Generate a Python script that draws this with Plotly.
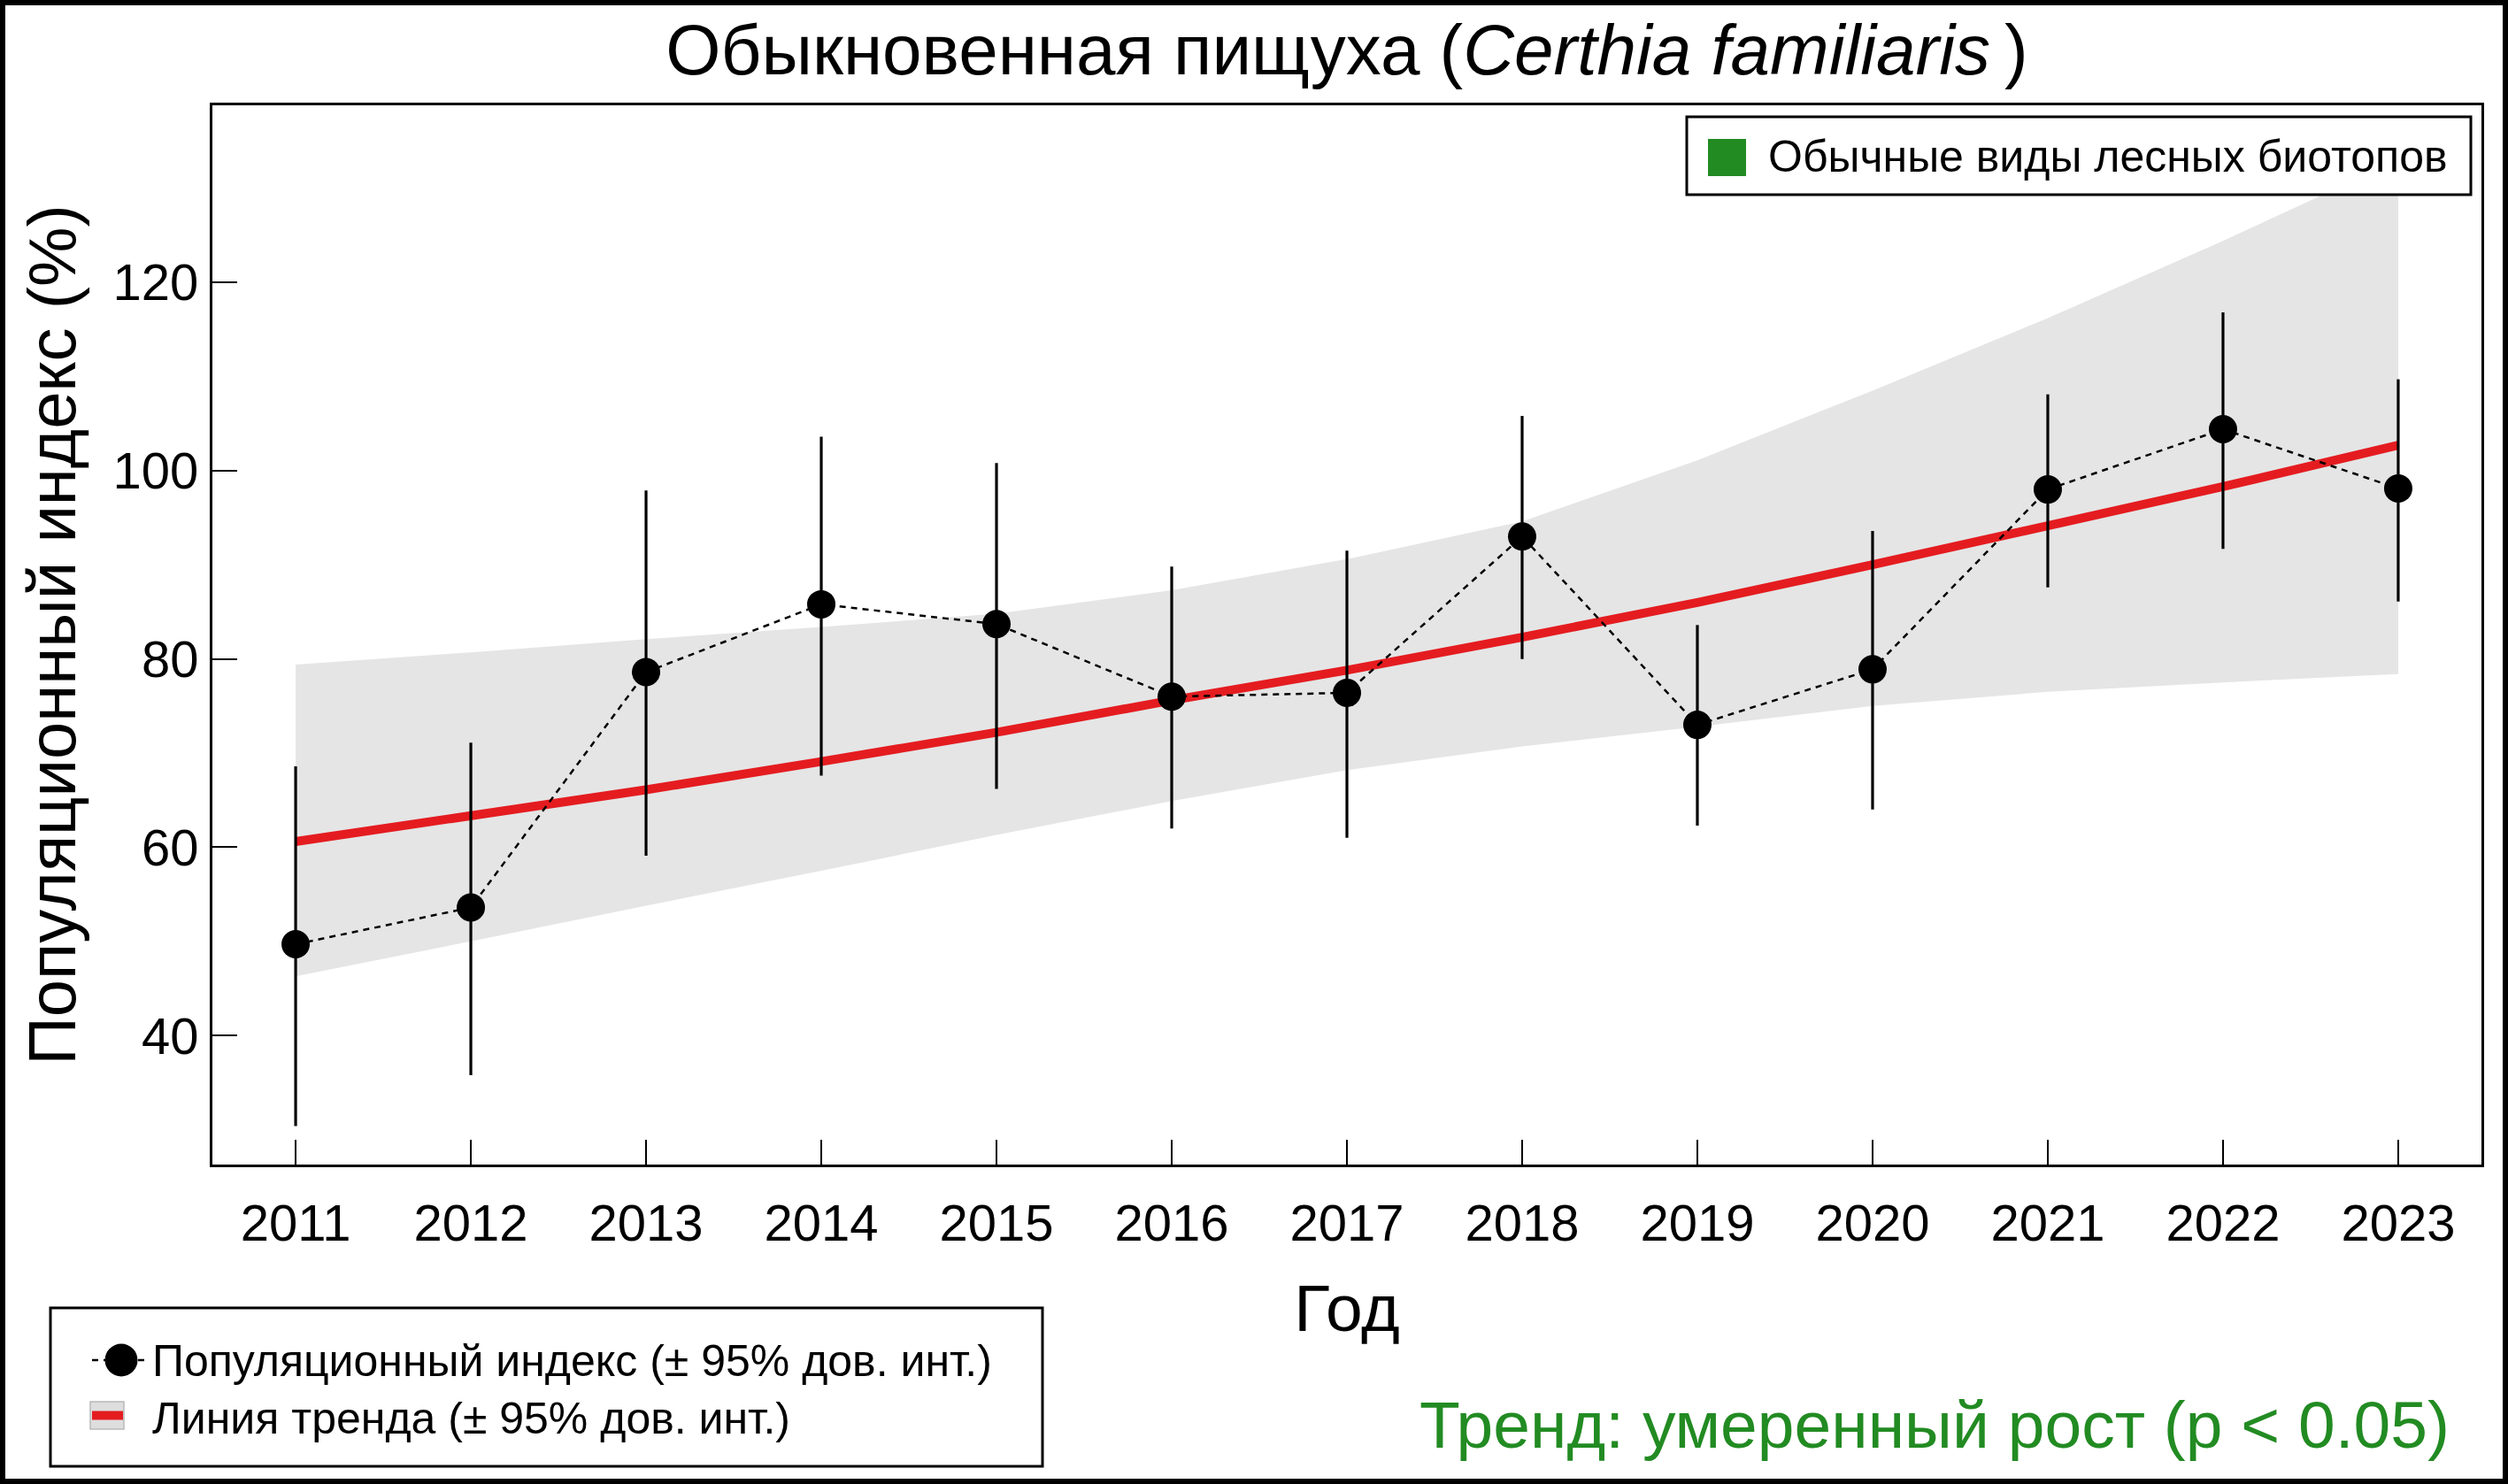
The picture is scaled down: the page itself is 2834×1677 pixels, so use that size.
import plotly.graph_objects as go

# ---------------- data ----------------
years = [2011, 2012, 2013, 2014, 2015, 2016, 2017, 2018, 2019, 2020, 2021, 2022, 2023]
year_labels = [str(y) for y in years]
index_vals = [49.7, 53.6, 78.6, 85.8, 83.7, 76.0, 76.4, 93.0, 73.0, 78.9, 98.0, 104.4, 98.1]
index_upper = [68.6, 71.1, 97.9, 103.6, 100.8, 89.8, 91.5, 105.8, 83.6, 93.6, 108.1, 116.8, 109.7]
index_lower = [30.4, 35.8, 59.1, 67.6, 66.2, 62.0, 61.0, 80.0, 62.3, 64.0, 87.6, 91.7, 86.1]
trend_vals = [60.6, 63.3, 66.1, 69.1, 72.2, 75.6, 78.8, 82.3, 86.0, 90.0, 94.1, 98.3, 102.7]
trend_upper = [79.4, 80.7, 82.1, 83.4, 84.8, 87.3, 90.6, 94.6, 101.1, 108.5, 116.2, 124.4, 133.0]
trend_lower = [46.3, 50.0, 53.8, 57.5, 61.3, 64.9, 68.2, 70.7, 72.8, 75.0, 76.5, 77.5, 78.4]
y_ticks = [40, 60, 80, 100, 120]

title_main = "Обыкновенная пищуха ("
title_italic = "Certhia familiaris"
x_title = "Год"
y_title = "Популяционный индекс (%)"
group_label = "Обычные виды лесных биотопов"
legend_index = "Популяционный индекс (± 95% дов. инт.)"
legend_trend = "Линия тренда (± 95% дов. инт.)"
trend_text = "Тренд: умеренный рост (p < 0.05)"

# ---------------- geometry ----------------
W, H = 2834, 1677
L, R, T, B = 240, 30, 119, 361
PW = W - L - R
PH = H - T - B
FONT = "Liberation Sans, Arial, sans-serif"
GREEN = "#228B22"
RED = "rgb(228,28,32)"
BAND = "rgb(229,229,229)"


def px(x):
    return (x - L) / PW


def py(y):
    return (H - B - y) / PH


fig = go.Figure()

fig.add_trace(go.Scatter(
    x=years + years[::-1],
    y=trend_upper + trend_lower[::-1],
    fill="toself", fillcolor=BAND, mode="lines", line=dict(width=0),
    hoverinfo="skip", showlegend=False, name="trend CI"))

fig.add_trace(go.Scatter(
    x=years, y=trend_vals, mode="lines",
    line=dict(color=RED, width=10), showlegend=False, name=legend_trend))

fig.add_trace(go.Scatter(
    x=years, y=index_vals, mode="lines+markers",
    line=dict(color="black", width=2.5, dash="7px,6px"),
    marker=dict(size=32, color="black"),
    error_y=dict(type="data", symmetric=False,
                 array=[u - v for u, v in zip(index_upper, index_vals)],
                 arrayminus=[v - l for v, l in zip(index_vals, index_lower)],
                 thickness=3.2, width=0, color="black"),
    showlegend=False, name=legend_index))

fig.update_layout(
    width=W, height=H,
    margin=dict(l=L, r=R, t=T, b=B, pad=0),
    paper_bgcolor="white", plot_bgcolor="white",
    font=dict(family=FONT, color="black"),
    title=dict(text=title_main + "<i>" + title_italic + "</i>\u2009)",
               x=1522 / W, xanchor="center",
               y=1 - 56 / H, yanchor="middle",
               font=dict(size=80, family=FONT, color="black")),
    showlegend=False,
)

fig.update_xaxes(
    range=[2010.525, 2023.475], tickmode="array", tickvals=years, ticktext=year_labels,
    ticks="inside", ticklen=28, tickwidth=2, tickcolor="black",
    showline=True, linewidth=3, linecolor="black", mirror=True,
    showgrid=False, zeroline=False,
    tickfont=dict(size=58, family=FONT, color="black"),
    ticklabelstandoff=13,
    title=dict(text=x_title, font=dict(size=75, family=FONT, color="black"), standoff=39),
)
fig.update_yaxes(
    range=[26.3, 138.8], tickmode="array", tickvals=y_ticks,
    ticks="inside", ticklen=28, tickwidth=2, tickcolor="black",
    showline=True, linewidth=3, linecolor="black", mirror=True,
    showgrid=False, zeroline=False,
    tickfont=dict(size=58, family=FONT, color="black"),
    ticklabelstandoff=1,
    title=dict(text=y_title, font=dict(size=76, family=FONT, color="black"), standoff=18),
)

shapes = []
# outer border of the picture
shapes.append(dict(type="rect", xref="paper", yref="paper",
                   x0=px(3), x1=px(W - 3), y0=py(3), y1=py(H - 3),
                   line=dict(color="black", width=6), layer="above"))
# group legend (top right)
shapes.append(dict(type="rect", xref="paper", yref="paper",
                   x0=px(1906), x1=px(2792), y0=py(220), y1=py(132),
                   line=dict(color="black", width=3), fillcolor="white", layer="above"))
shapes.append(dict(type="rect", xref="paper", yref="paper",
                   x0=px(1930), x1=px(1973), y0=py(199), y1=py(157),
                   line=dict(width=0), fillcolor=GREEN, layer="above"))
# series legend (bottom left)
shapes.append(dict(type="rect", xref="paper", yref="paper",
                   x0=px(57), x1=px(1178), y0=py(1657), y1=py(1478),
                   line=dict(color="black", width=3), fillcolor="white", layer="above"))
shapes.append(dict(type="line", xref="paper", yref="paper",
                   x0=px(104), x1=px(169), y0=py(1537), y1=py(1537),
                   line=dict(color="black", width=2.5, dash="7px,6px"), layer="above"))
shapes.append(dict(type="circle", xref="paper", yref="paper",
                   x0=px(118.5), x1=px(155.5), y0=py(1555.5), y1=py(1518.5),
                   line=dict(width=0), fillcolor="black", layer="above"))
shapes.append(dict(type="rect", xref="paper", yref="paper",
                   x0=px(102), x1=px(140), y0=py(1615), y1=py(1584),
                   line=dict(color="rgb(185,185,185)", width=1.5), fillcolor="rgb(222,222,222)",
                   layer="above"))
shapes.append(dict(type="line", xref="paper", yref="paper",
                   x0=px(104), x1=px(139), y0=py(1599.5), y1=py(1599.5),
                   line=dict(color=RED, width=10), layer="above"))
fig.update_layout(shapes=shapes)

annotations = [
    dict(text=group_label, xref="paper", yref="paper", x=px(1996), y=py(177),
         xanchor="left", yanchor="middle", showarrow=False,
         font=dict(size=50, family=FONT, color="black")),
    dict(text=legend_index, xref="paper", yref="paper", x=px(170), y=py(1538),
         xanchor="left", yanchor="middle", showarrow=False,
         font=dict(size=50, family=FONT, color="black")),
    dict(text=legend_trend, xref="paper", yref="paper", x=px(170), y=py(1603),
         xanchor="left", yanchor="middle", showarrow=False,
         font=dict(size=50, family=FONT, color="black")),
    dict(text=trend_text, xref="paper", yref="paper", x=px(2770), y=py(1610),
         xanchor="right", yanchor="middle", showarrow=False,
         font=dict(size=75, family=FONT, color=GREEN)),
]
fig.update_layout(annotations=annotations)

fig.write_html("out.html",
               config={"displayModeBar": False},
               post_script="document.body.style.margin='0px';"
                           "document.body.style.overflow='hidden';")
